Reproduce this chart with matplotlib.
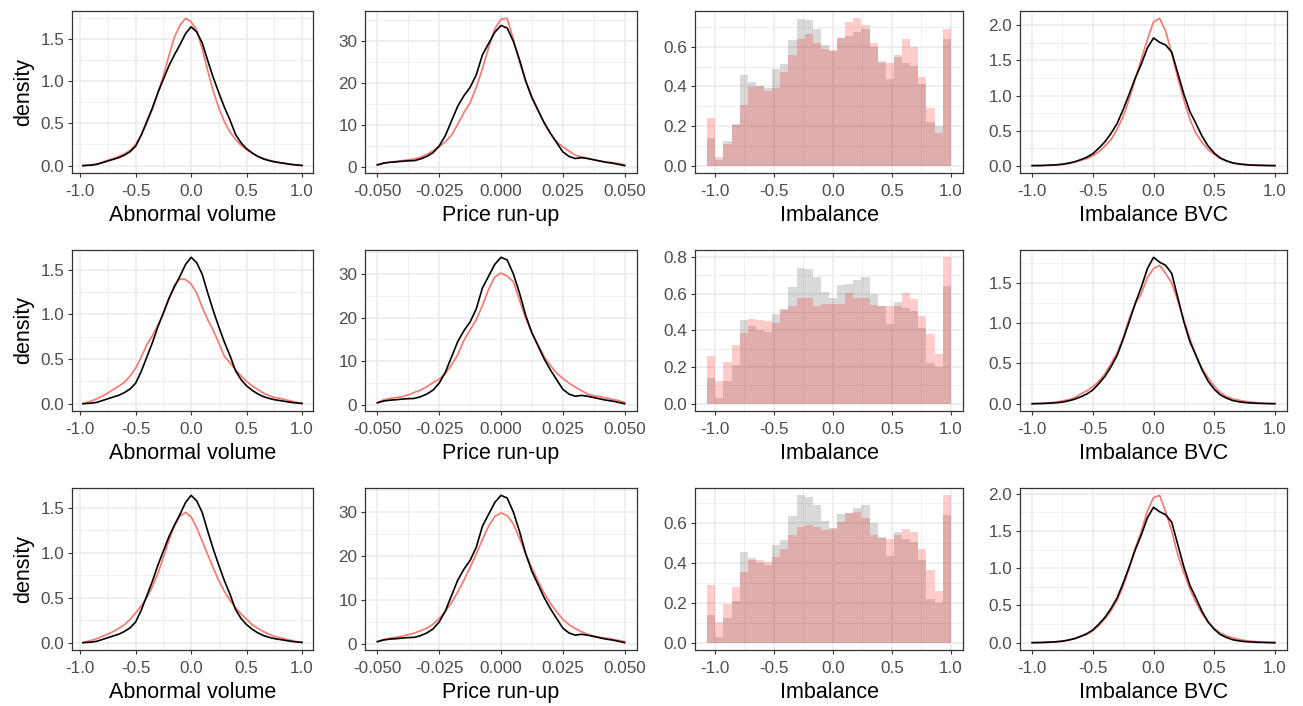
import numpy as np
import matplotlib
matplotlib.use("Agg")
import matplotlib.pyplot as plt
from matplotlib.ticker import AutoMinorLocator, FormatStrFormatter

plt.rcParams['font.family'] = ['Liberation Sans', 'DejaVu Sans']
plt.rcParams['axes.unicode_minus'] = False

# ---- data ----
# Abnormal volume densities (x step 0.05)
av_x = np.round(np.arange(-1.0, 1.0001, 0.05), 3)
av_x[0] = -0.975
av_black = [0.0, 0.002, 0.006, 0.015, 0.035, 0.055, 0.075, 0.095, 0.125, 0.165, 0.23, 0.36, 0.52, 0.68, 0.86,
            1.02, 1.18, 1.31, 1.43, 1.56, 1.64, 1.58, 1.45, 1.24, 1.04, 0.86, 0.69, 0.54, 0.37, 0.27,
            0.2, 0.15, 0.11, 0.08, 0.06, 0.045, 0.035, 0.025, 0.015, 0.008, 0.002]
av_red1 = [0.0, 0.003, 0.01, 0.02, 0.04, 0.065, 0.085, 0.11, 0.14, 0.18, 0.25, 0.36, 0.5, 0.66, 0.86,
           1.06, 1.3, 1.52, 1.66, 1.74, 1.7, 1.6, 1.38, 1.12, 0.88, 0.68, 0.52, 0.4, 0.31, 0.24,
           0.19, 0.15, 0.11, 0.085, 0.065, 0.05, 0.035, 0.025, 0.015, 0.008, 0.003]
av_red2 = [0.0, 0.01, 0.03, 0.055, 0.085, 0.12, 0.16, 0.2, 0.24, 0.31, 0.4, 0.52, 0.66, 0.76, 0.88,
           1.0, 1.17, 1.33, 1.4, 1.39, 1.34, 1.24, 1.08, 0.94, 0.82, 0.68, 0.53, 0.46, 0.38, 0.31,
           0.25, 0.2, 0.16, 0.12, 0.09, 0.07, 0.06, 0.045, 0.03, 0.015, 0.005]
av_red3 = [0.0, 0.01, 0.025, 0.045, 0.07, 0.095, 0.125, 0.16, 0.2, 0.26, 0.33, 0.41, 0.5, 0.62, 0.77,
           0.95, 1.14, 1.3, 1.41, 1.45, 1.4, 1.28, 1.13, 0.98, 0.83, 0.69, 0.57, 0.47, 0.39, 0.32,
           0.26, 0.2, 0.16, 0.125, 0.095, 0.07, 0.055, 0.04, 0.025, 0.012, 0.004]

# Price run-up densities (x step 0.0025)
pr_x = np.round(np.arange(-0.05, 0.05001, 0.0025), 4)
pr_black = [0.5, 0.9, 1.1, 1.2, 1.35, 1.45, 1.5, 1.9, 2.5, 3.4, 5.0, 7.5, 11.0, 14.5, 17.0, 19.0, 22.0,
            26.8, 29.5, 32.2, 33.8, 33.2, 30.0, 25.6, 20.5, 16.5, 13.5, 10.5, 8.0, 5.8, 3.6, 2.5,
            2.0, 2.2, 2.0, 1.7, 1.4, 1.1, 0.9, 0.6, 0.3]
pr_red1 = [0.4, 0.8, 1.1, 1.3, 1.5, 1.7, 1.9, 2.3, 3.0, 3.8, 4.8, 6.0, 7.6, 10.2, 13.0, 15.3, 19.0,
           23.5, 28.5, 33.0, 35.3, 35.5, 30.5, 25.0, 20.5, 16.8, 13.5, 10.5, 8.0, 6.0, 4.8, 3.8,
           2.8, 2.4, 2.1, 1.7, 1.4, 1.2, 1.0, 0.8, 0.5]
pr_red2 = [0.5, 1.2, 1.5, 1.7, 1.9, 2.3, 2.9, 3.4, 4.2, 5.1, 5.9, 7.2, 9.2, 11.5, 14.8, 17.2, 19.5,
           22.8, 26.5, 29.3, 30.2, 29.5, 28.2, 24.0, 19.8, 16.5, 13.8, 11.0, 9.0, 7.3, 6.1, 5.0,
           4.1, 3.3, 2.5, 2.1, 1.9, 1.6, 1.3, 1.0, 0.6]
pr_red3 = [0.6, 1.0, 1.3, 1.5, 1.8, 2.1, 2.5, 3.0, 3.6, 4.5, 5.8, 7.4, 9.4, 11.8, 14.5, 17.4, 20.5,
           23.8, 26.8, 29.0, 29.8, 29.2, 27.3, 24.0, 20.5, 17.3, 14.3, 11.5, 9.2, 7.3, 5.6, 4.4,
           3.5, 2.8, 2.2, 1.8, 1.5, 1.3, 1.1, 0.8, 0.6]

# Imbalance histograms (30 bins)
im_edges = np.linspace(-1.065, 1.0, 31)
im_gray = [0.138, 0.03, 0.126, 0.21, 0.455, 0.424, 0.40, 0.39, 0.49, 0.515, 0.636, 0.74, 0.733, 0.69,
           0.61, 0.578, 0.645, 0.653, 0.674, 0.69, 0.60, 0.53, 0.437, 0.556, 0.52, 0.504, 0.414,
           0.22, 0.2, 0.641]
im_red1 = [0.242, 0.045, 0.11, 0.205, 0.306, 0.395, 0.403, 0.375, 0.39, 0.474, 0.558, 0.637, 0.664,
           0.62, 0.59, 0.585, 0.642, 0.726, 0.743, 0.709, 0.617, 0.52, 0.516, 0.55, 0.637, 0.597,
           0.445, 0.289, 0.166, 0.689]
im_red2 = [0.26, 0.125, 0.229, 0.32, 0.386, 0.46, 0.455, 0.45, 0.44, 0.51, 0.53, 0.576, 0.576, 0.53,
           0.545, 0.542, 0.545, 0.603, 0.578, 0.578, 0.536, 0.53, 0.53, 0.53, 0.605, 0.572, 0.477,
           0.379, 0.271, 0.798]
im_red3 = [0.291, 0.103, 0.195, 0.279, 0.355, 0.417, 0.417, 0.405, 0.428, 0.472, 0.54, 0.58, 0.593,
           0.58, 0.568, 0.571, 0.605, 0.649, 0.655, 0.627, 0.543, 0.526, 0.523, 0.543, 0.571, 0.555,
           0.47, 0.366, 0.257, 0.74]

# Imbalance BVC densities (x step 0.05)
bvc_x = np.round(np.arange(-1.0, 1.0001, 0.05), 3)
bvc_black = [0.0, 0.001, 0.003, 0.007, 0.012, 0.02, 0.035, 0.055, 0.085, 0.12, 0.17, 0.25, 0.34, 0.46,
             0.6, 0.8, 1.02, 1.25, 1.45, 1.68, 1.82, 1.76, 1.72, 1.62, 1.32, 1.02, 0.77, 0.6, 0.42,
             0.28, 0.18, 0.11, 0.07, 0.04, 0.025, 0.015, 0.009, 0.005, 0.003, 0.001, 0.0]
bvc_red1 = [0.0, 0.001, 0.003, 0.006, 0.01, 0.018, 0.03, 0.05, 0.075, 0.1, 0.14, 0.2, 0.28, 0.37, 0.52,
            0.7, 0.95, 1.24, 1.52, 1.8, 2.05, 2.1, 1.92, 1.6, 1.25, 0.94, 0.66, 0.46, 0.33, 0.23,
            0.16, 0.1, 0.065, 0.04, 0.025, 0.016, 0.01, 0.007, 0.004, 0.002, 0.0]
bvc_red2 = [0.0, 0.002, 0.006, 0.012, 0.02, 0.035, 0.05, 0.075, 0.12, 0.16, 0.21, 0.28, 0.37, 0.5, 0.63,
            0.82, 1.06, 1.24, 1.37, 1.57, 1.68, 1.72, 1.62, 1.5, 1.28, 1.04, 0.81, 0.6, 0.44, 0.32,
            0.22, 0.14, 0.09, 0.06, 0.045, 0.03, 0.02, 0.012, 0.006, 0.002, 0.0]
bvc_red3 = [0.0, 0.001, 0.003, 0.006, 0.012, 0.02, 0.032, 0.05, 0.08, 0.11, 0.16, 0.23, 0.32, 0.43,
            0.57, 0.76, 1.0, 1.27, 1.5, 1.77, 1.95, 1.98, 1.76, 1.5, 1.18, 0.94, 0.72, 0.54, 0.39,
            0.27, 0.19, 0.13, 0.09, 0.065, 0.045, 0.03, 0.02, 0.012, 0.006, 0.002, 0.0]

av_reds = [av_red1, av_red2, av_red3]
pr_reds = [pr_red1, pr_red2, pr_red3]
im_reds = [im_red1, im_red2, im_red3]
bvc_reds = [bvc_red1, bvc_red2, bvc_red3]

# ---- layout (pixel boxes of the panels) ----
W, H = 1303, 706
col_px = [(72, 313), (365, 637), (695, 963), (1020, 1287)]
row_px = [(11, 173), (250, 411), (488, 650)]

RED = '#F8766D'
GRID = '#EBEBEB'
DARK = '#333333'
TICK_FS = 12.3
LAB_FS = 15.5


def style(ax, xticks, xfmt, yticks, yfmt, xlabel):
    ax.set_xticks(xticks)
    ax.set_yticks(yticks)
    ax.xaxis.set_major_formatter(FormatStrFormatter(xfmt))
    ax.yaxis.set_major_formatter(FormatStrFormatter(yfmt))
    ax.xaxis.set_minor_locator(AutoMinorLocator(2))
    ax.yaxis.set_minor_locator(AutoMinorLocator(2))
    ax.grid(which='major', color=GRID, lw=1.1)
    ax.grid(which='minor', color=GRID, lw=0.55)
    ax.set_axisbelow(True)
    for s in ax.spines.values():
        s.set_color(DARK)
        s.set_linewidth(0.9)
    ax.tick_params(which='major', length=3, width=0.8, color=DARK, labelcolor='#4D4D4D',
                   labelsize=TICK_FS, pad=2.5)
    ax.tick_params(axis='x', which='major', pad=5)
    ax.tick_params(which='minor', length=0)
    ax.set_xlabel(xlabel, fontsize=LAB_FS, labelpad=4, color='black')


fig = plt.figure(figsize=(W / 100, H / 100), dpi=100)

for r in range(3):
    y0, y1 = row_px[r]
    axes = []
    for c in range(4):
        x0, x1 = col_px[c]
        ax = fig.add_axes([x0 / W, 1 - y1 / H, (x1 - x0) / W, (y1 - y0) / H])
        axes.append(ax)

    # Abnormal volume
    ax = axes[0]
    ax.plot(av_x, av_reds[r], color=RED, lw=1.2)
    ax.plot(av_x, av_black, color='black', lw=1.2)
    style(ax, [-1.0, -0.5, 0.0, 0.5, 1.0], '%.1f', [0.0, 0.5, 1.0, 1.5], '%.1f', 'Abnormal volume')
    ax.set_ylabel('density', fontsize=LAB_FS, labelpad=5)

    # Price run-up
    ax = axes[1]
    ax.plot(pr_x, pr_reds[r], color=RED, lw=1.2)
    ax.plot(pr_x, pr_black, color='black', lw=1.2)
    style(ax, [-0.05, -0.025, 0.0, 0.025, 0.05], '%.3f', [0, 10, 20, 30], '%d', 'Price run-up')

    # Imbalance histograms
    ax = axes[2]
    widths = np.diff(im_edges)
    ax.bar(im_edges[:-1], im_gray, width=widths, align='edge', color='black', alpha=0.15, lw=0)
    ax.bar(im_edges[:-1], im_reds[r], width=widths, align='edge', color='red', alpha=0.2, lw=0)
    ax.use_sticky_edges = False
    ax.margins(x=0.05, y=0.05)
    ymax = max(max(im_gray), max(im_reds[r]))
    yt = [0.0, 0.2, 0.4, 0.6] + ([0.8] if ymax >= 0.78 else [])
    style(ax, [-1.0, -0.5, 0.0, 0.5, 1.0], '%.1f', yt, '%.1f', 'Imbalance')

    # Imbalance BVC
    ax = axes[3]
    ax.plot(bvc_x, bvc_reds[r], color=RED, lw=1.2)
    ax.plot(bvc_x, bvc_black, color='black', lw=1.2)
    ymax = max(max(bvc_black), max(bvc_reds[r]))
    yt = [0.0, 0.5, 1.0, 1.5] + ([2.0] if ymax >= 1.95 else [])
    style(ax, [-1.0, -0.5, 0.0, 0.5, 1.0], '%.1f', yt, '%.1f', 'Imbalance BVC')

fig.savefig('out.png', dpi=100, facecolor='white')
